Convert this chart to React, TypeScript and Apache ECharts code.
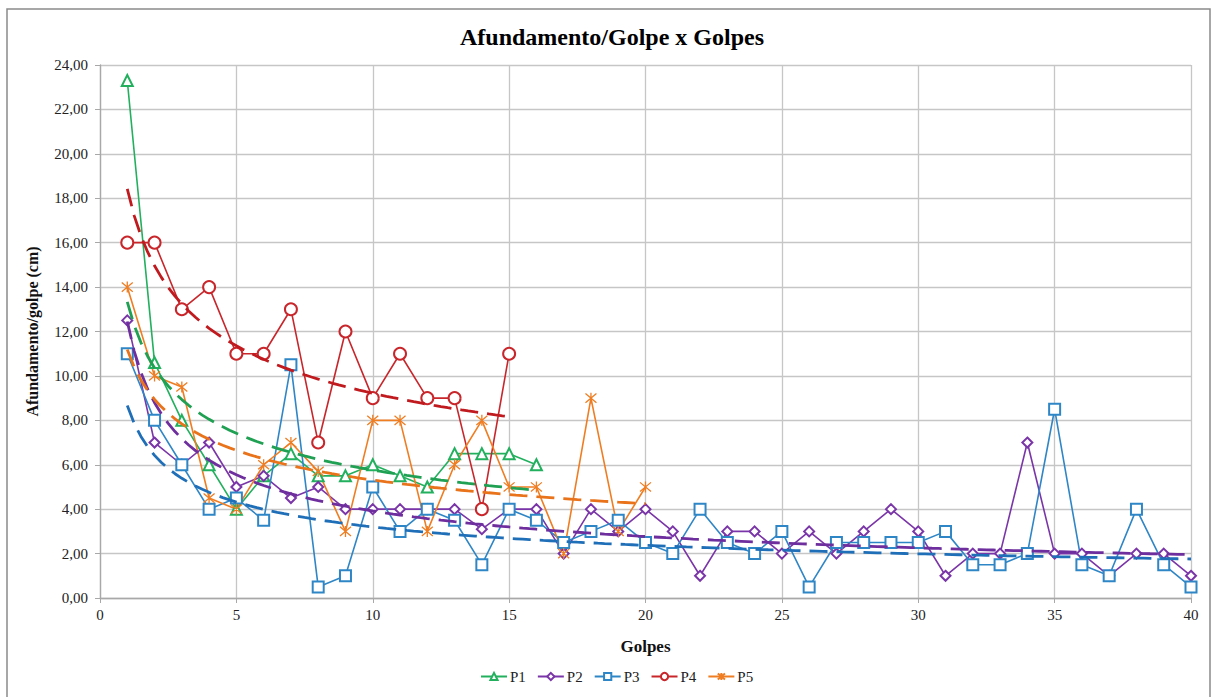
import React, { useEffect, useRef } from "react";
import * as echarts from "echarts";

const seriesNames = ["P1", "P2", "P3", "P4", "P5"];
const p1 = [23.3, 10.6, 8.0, 6.0, 4.0, 5.5, 6.5, 5.5, 5.5, 6.0, 5.5, 5.0, 6.5, 6.5, 6.5, 6.0];
const p2 = [12.5, 7.0, 6.0, 7.0, 5.0, 5.5, 4.5, 5.0, 4.0, 4.0, 4.0, 4.0, 4.0, 3.1, 4.0, 4.0, 2.0, 4.0, 3.0, 4.0,
  3.0, 1.0, 3.0, 3.0, 2.0, 3.0, 2.0, 3.0, 4.0, 3.0, 1.0, 2.0, 2.0, 7.0, 2.0, 2.0, 1.0, 2.0, 2.0, 1.0];
const p3 = [11.0, 8.0, 6.0, 4.0, 4.5, 3.5, 10.5, 0.5, 1.0, 5.0, 3.0, 4.0, 3.5, 1.5, 4.0, 3.5, 2.5, 3.0, 3.5, 2.5,
  2.0, 4.0, 2.5, 2.0, 3.0, 0.5, 2.5, 2.5, 2.5, 2.5, 3.0, 1.5, 1.5, 2.0, 8.5, 1.5, 1.0, 4.0, 1.5, 0.5];
const p4 = [16.0, 16.0, 13.0, 14.0, 11.0, 11.0, 13.0, 7.0, 12.0, 9.0, 11.0, 9.0, 9.0, 4.0, 11.0];
const p5 = [14.0, 10.0, 9.5, 4.5, 4.0, 6.0, 7.0, 5.7, 3.0, 8.0, 8.0, 3.0, 6.0, 8.0, 5.0, 5.0, 2.0, 9.0, 3.0, 5.0];
const yTicks = ["0,00", "2,00", "4,00", "6,00", "8,00", "10,00", "12,00", "14,00", "16,00", "18,00", "20,00", "22,00", "24,00"];

const allData = [p1, p2, p3, p4, p5];
const colors = ["#22B05E", "#7A35A8", "#2F86C6", "#C8262B", "#EF7D22"];
const trendColors = ["#1FA052", "#6E2E9E", "#1F6FB8", "#C01A1F", "#E8731A"];
const symbols = [
  "emptyTriangle",
  "emptyDiamond",
  "emptyRect",
  "emptyCircle",
  "path://M0,0L10,10M10,0L0,10M5,-1L5,11",
];
const symbolSizes = [11, 10, 11, 12, 11];

const FONT = "Liberation Serif";

function powerTrend(ys: number[]) {
  const n = ys.length;
  let sx = 0, sy = 0;
  const lx: number[] = [], ly: number[] = [];
  for (let i = 0; i < n; i++) {
    lx.push(Math.log(i + 1));
    ly.push(Math.log(ys[i]));
    sx += lx[i];
    sy += ly[i];
  }
  const mx = sx / n, my = sy / n;
  let num = 0, den = 0;
  for (let i = 0; i < n; i++) {
    num += (lx[i] - mx) * (ly[i] - my);
    den += (lx[i] - mx) * (lx[i] - mx);
  }
  const b = num / den;
  const a = Math.exp(my - b * mx);
  const pts: number[][] = [];
  for (let x = 1; x <= n + 1e-9; x += 0.25) pts.push([x, a * Math.pow(x, b)]);
  return pts;
}

export default function App() {
  const ref = useRef<HTMLDivElement>(null);
  useEffect(() => {
    const chart = echarts.init(ref.current!, null, { renderer: "svg" });
    const lineSeries = allData.map((d, i) => ({
      name: seriesNames[i],
      type: "line",
      data: d.map((v, j) => [j + 1, v]),
      symbol: symbols[i],
      symbolSize: symbolSizes[i],
      showAllSymbol: true,
      lineStyle: { color: colors[i], width: 1.6 },
      itemStyle: { color: colors[i], borderColor: colors[i], borderWidth: 1.3 },
      z: 3,
    }));
    const trendSeries = allData.map((d, i) => ({
      name: seriesNames[i] + " trend",
      type: "line",
      data: powerTrend(d),
      symbol: "none",
      smooth: false,
      lineStyle: { color: trendColors[i], width: 2.8, type: [18, 9] },
      z: 4,
      silent: true,
    }));
    chart.setOption({
      animation: false,
      backgroundColor: "#ffffff",
      textStyle: { fontFamily: FONT },
      title: {
        text: "Afundamento/Golpe x Golpes",
        left: 607,
        textAlign: "center",
        top: 20,
        textStyle: { fontFamily: FONT, fontSize: 24, fontWeight: "bold", color: "#000" },
      },
      graphic: [
        {
          type: "rect",
          shape: { x: 7, y: 9, width: 1203, height: 700 },
          style: { fill: "none", stroke: "#8a8a8a", lineWidth: 1.5 },
          silent: true,
          z: -10,
        },
      ],
      legend: {
        data: seriesNames,
        left: 475,
        bottom: 8,
        itemWidth: 26,
        itemHeight: 9,
        itemGap: 11,
        textStyle: { fontFamily: FONT, fontSize: 15, color: "#222", padding: [0, 0, 0, -2] },
        orient: "horizontal",
        align: "left",
      },
      grid: { left: 100, right: 23, top: 65, bottom: 99 },
      xAxis: {
        type: "value",
        min: 0,
        max: 40,
        interval: 5,
        name: "Golpes",
        nameLocation: "middle",
        nameGap: 40,
        nameTextStyle: { fontFamily: FONT, fontSize: 17, fontWeight: "bold", color: "#111" },
        axisLine: { show: true, lineStyle: { color: "#a8a8a8", width: 1.3 } },
        axisTick: { show: true, length: 5, lineStyle: { color: "#a8a8a8" } },
        axisLabel: { fontFamily: FONT, fontSize: 15, color: "#222", margin: 9 },
        splitLine: { show: true, lineStyle: { color: "#c6c6c6", width: 1.3 } },
      },
      yAxis: {
        type: "value",
        min: 0,
        max: 24,
        interval: 2,
        name: "Afundamento/golpe (cm)",
        nameLocation: "middle",
        nameGap: 60,
        nameTextStyle: { fontFamily: FONT, fontSize: 16, fontWeight: "bold", color: "#111" },
        axisLine: { show: true, lineStyle: { color: "#a8a8a8", width: 1.3 } },
        axisTick: { show: true, length: 5, lineStyle: { color: "#a8a8a8" } },
        axisLabel: {
          fontFamily: FONT,
          fontSize: 15,
          color: "#222",
          margin: 12,
          formatter: (v: number) => yTicks[Math.round(v / 2)] ?? "",
        },
        splitLine: { show: true, lineStyle: { color: "#c6c6c6", width: 1.3 } },
      },
      series: [...lineSeries, ...trendSeries],
    });
    return () => chart.dispose();
  }, []);
  return (
    <div
      ref={ref}
      style={{ position: "absolute", left: 0, top: 0, width: 1214, height: 697 }}
    />
  );
}
